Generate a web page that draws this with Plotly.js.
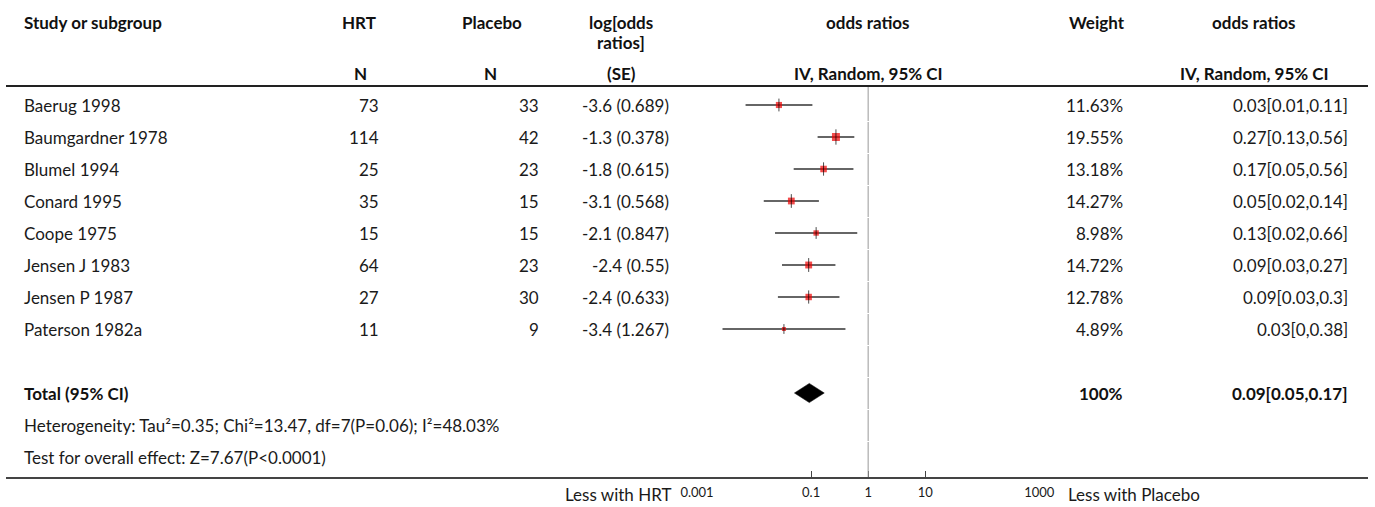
<!DOCTYPE html>
<html><head><meta charset="utf-8">
<script src="https://cdn.plot.ly/plotly-3.0.1.min.js"></script>
<style>html,body{margin:0;padding:0;background:#fff;} #chart{width:1375px;height:507px;}</style>
</head><body><div id="chart"></div>
<script>
// ---------- data ----------
const studies = ['Baerug 1998','Baumgardner 1978','Blumel 1994','Conard 1995','Coope 1975','Jensen J 1983','Jensen P 1987','Paterson 1982a'];
const hrtN = [73,114,25,35,15,64,27,11];
const placeboN = [33,42,23,15,15,23,30,9];
const logOR = [-3.6,-1.3,-1.8,-3.1,-2.1,-2.4,-2.4,-3.4];
const logSE = [0.689,0.378,0.615,0.568,0.847,0.55,0.633,1.267];
const weights = [11.63,19.55,13.18,14.27,8.98,14.72,12.78,4.89];
const orEst = [0.0273,0.2725,0.1653,0.0450,0.1225,0.0907,0.0907,0.0334];
const ciLow = [0.0071,0.130,0.0495,0.0148,0.0233,0.0309,0.0262,0.0028];
const ciHigh = [0.1054,0.572,0.552,0.137,0.644,0.267,0.314,0.400];
const orShown = [0.03,0.27,0.17,0.05,0.13,0.09,0.09,0.03];
const lowShown = [0.01,0.13,0.05,0.02,0.02,0.03,0.03,0];
const highShown = [0.11,0.56,0.56,0.14,0.66,0.27,0.3,0.38];
const totalOR = 0.093, totalLow = 0.051, totalHigh = 0.170;
const totalShown = [0.09,0.05,0.17];
const totalWeight = '100%';
const totalLabel = 'Total (95% CI)';
const heterogeneity = 'Heterogeneity: Tau²=0.35; Chi²=13.47, df=7(P=0.06); I²=48.03%';
const overallTest = 'Test for overall effect: Z=7.67(P&lt;0.0001)';
const tickVals = [0.001,0.1,1,10,1000];
const tickText = ['0.001','0.1','1','10','1000'];
const leftLabel = 'Less with HRT', rightLabel = 'Less with Placebo';

// ---------- layout helpers ----------
const W = 1375, H = 507;
const FONT = 'Lato, "Open Sans", sans-serif';
const FS = 17, TXT = '#1a1a1a';
const px = x => x / W;
const py = p => 1 - p / H;
const ROW0 = 105, ROWH = 32;
const TOTAL_ROW = 9, HET_ROW = 10, TEST_ROW = 11;
const rows = studies.map((_, i) => i);

const annotations = [];
function ann(text, x, y, xanchor, opts) {
  annotations.push(Object.assign({
    text, x: px(x), xref: 'paper', y, yref: 'y', xanchor, yanchor: 'middle',
    showarrow: false, font: {family: FONT, size: FS, color: TXT}
  }, opts || {}));
}
function hdr(text, x, p, xanchor) {
  ann(text, x, py(p), xanchor, {yref: 'paper', font: {family: FONT, size: FS, color: '#111', weight: 'bold'}});
}
const b = s => '<b>' + s + '</b>';

// header
hdr(b('Study or subgroup'), 22, 22, 'left');
hdr(b('HRT'), 359, 22, 'center');
hdr(b('Placebo'), 492, 22, 'center');
hdr(b('log[odds'), 621, 22, 'center');
hdr(b('ratios]'), 621, 43, 'center');
hdr(b('odds ratios'), 868, 22, 'center');
hdr(b('Weight'), 1097, 22, 'center');
hdr(b('odds ratios'), 1254, 22, 'center');
hdr(b('N'), 360, 74, 'center');
hdr(b('N'), 490, 74, 'center');
hdr(b('(SE)'), 621, 74, 'center');
hdr(b('IV, Random, 95% CI'), 868, 74, 'center');
hdr(b('IV, Random, 95% CI'), 1254, 74, 'center');

// study rows
rows.forEach(i => {
  ann(studies[i], 22, i, 'left');
  ann(String(hrtN[i]), 381, i, 'right');
  ann(String(placeboN[i]), 541, i, 'right');
  ann(logOR[i] + ' (' + logSE[i] + ')', 671, i, 'right');
  ann(weights[i] + '%', 1125, i, 'right');
  ann(orShown[i] + '[' + lowShown[i] + ',' + highShown[i] + ']', 1350, i, 'right');
});
// total rows
ann(b(totalLabel), 22, TOTAL_ROW, 'left', {font: {family: FONT, size: FS, color: '#111'}});
ann(b(totalWeight), 1125, TOTAL_ROW, 'right', {font: {family: FONT, size: FS, color: '#111'}});
ann(b(totalShown[0] + '[' + totalShown[1] + ',' + totalShown[2] + ']'), 1350, TOTAL_ROW, 'right', {font: {family: FONT, size: FS, color: '#111'}});
ann(heterogeneity, 22, HET_ROW, 'left');
ann(overallTest, 22, TEST_ROW, 'left');
// axis side labels
ann(leftLabel, 673, py(494), 'right', {yref: 'paper'});
ann(rightLabel, 1066, py(494), 'left', {yref: 'paper'});

// shapes
const shapes = [
  {type: 'line', xref: 'paper', yref: 'paper', x0: px(6), x1: px(1368), y0: py(86), y1: py(86), line: {color: '#222', width: 2}},
  {type: 'line', xref: 'paper', yref: 'paper', x0: px(6), x1: px(1368), y0: py(478), y1: py(478), line: {color: '#444', width: 2}}
];
for (let k = 0; k <= 11; k++) {
  const top = k === 0 ? 87 : 89 + 32 * k + 1;
  const bot = k === 11 ? 477 : 89 + 32 * (k + 1);
  shapes.push({type: 'line', xref: 'x', yref: 'paper', x0: 1, x1: 1, y0: py(top), y1: py(bot), line: {color: '#999', width: 1}});
}

// ---------- traces ----------
const ciX = [], ciY = [];
rows.forEach(i => { ciX.push(ciLow[i], ciHigh[i], null); ciY.push(i, i, null); });
const sqSize = weights.map(w => 1.8 * Math.sqrt(w));

const traces = [
  {type: 'scatter', mode: 'lines', x: ciX, y: ciY, line: {color: '#333', width: 1.5}, hoverinfo: 'skip', showlegend: false},
  {type: 'scatter', mode: 'markers', x: orEst, y: rows, marker: {symbol: 'square', size: sqSize, color: '#ee0000', line: {width: 0}}, showlegend: false},
  {type: 'scatter', mode: 'markers', x: orEst, y: rows, marker: {symbol: 'line-ns', size: sqSize.map(s => s + 3), line: {color: '#000', width: 1}}, showlegend: false},
  {type: 'scatter', mode: 'lines', x: [totalLow, totalOR, totalHigh, totalOR, totalLow],
   y: [TOTAL_ROW, TOTAL_ROW - 0.3, TOTAL_ROW, TOTAL_ROW + 0.3, TOTAL_ROW],
   fill: 'toself', fillcolor: '#000', line: {color: '#000', width: 0.5}, showlegend: false}
];

const layout = {
  width: W, height: H,
  margin: {l: 0, r: 0, t: 0, b: 0},
  paper_bgcolor: '#fff', plot_bgcolor: 'rgba(0,0,0,0)',
  showlegend: false,
  font: {family: FONT, size: FS, color: TXT},
  xaxis: {
    type: 'log', range: [-3, 3], domain: [px(697), px(1039.3)],
    anchor: 'free', position: py(478),
    tickvals: tickVals, ticktext: tickText,
    ticks: 'inside', ticklen: 7, tickwidth: 1, tickcolor: '#444',
    ticklabelstandoff: 5,
    showgrid: false, zeroline: false, showline: false,
    tickfont: {family: FONT, size: 13, color: TXT}, fixedrange: true
  },
  yaxis: {
    range: [(H - ROW0) / ROWH, -ROW0 / ROWH], domain: [0, 1],
    visible: false, showgrid: false, zeroline: false, fixedrange: true
  },
  shapes, annotations
};

Plotly.newPlot('chart', traces, layout, {staticPlot: true, displayModeBar: false});
</script>
</body></html>
